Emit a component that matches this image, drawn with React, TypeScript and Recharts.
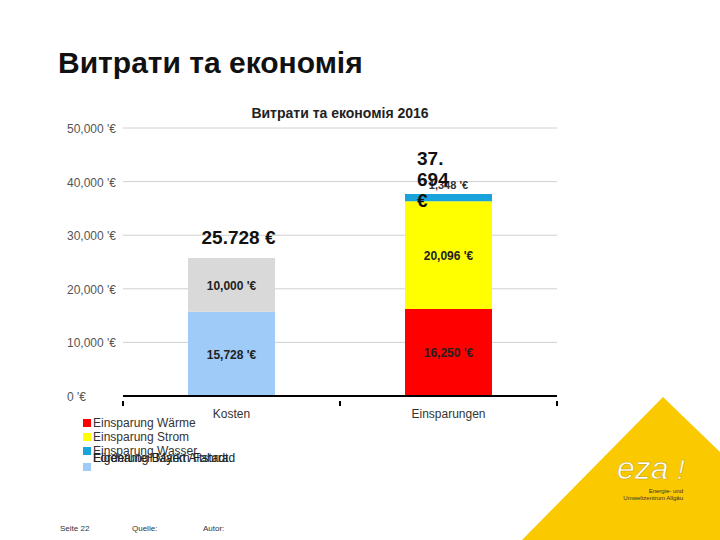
import React from 'react';
import { BarChart, Bar, XAxis, YAxis, CartesianGrid, LabelList } from 'recharts';

const categories = ['Kosten', 'Einsparungen'];
const blueValues = [15728, null];
const grayValues = [10000, null];
const redValues = [null, 16250];
const yellowValues = [null, 20096];
const cyanValues = [null, 1348];
const kostenTotals = ['25.728 €', null];
const einsparTotals = [null, '37.\n694\n€'];
const yTicks = [0, 10000, 20000, 30000, 40000, 50000];

const legendItems = [
  { name: 'Einsparung Wärme', color: '#ff0000' },
  { name: 'Einsparung Strom', color: '#ffff00' },
  { name: 'Einsparung Wasser', color: '#1aa3db' },
];
const overlapNames = ['Eigenanteil Markt Altstadt', 'Förderung Bayern Fahrrad'];

const data = categories.map((name, i) => ({
  name,
  blue: blueValues[i],
  gray: grayValues[i],
  red: redValues[i],
  yellow: yellowValues[i],
  cyan: cyanValues[i],
  kTotal: kostenTotals[i],
  eTotal: einsparTotals[i],
}));

const font = 'Arial, "Liberation Sans", sans-serif';
const euro = (v: number) => v.toLocaleString('en-US') + " '€";

const YTick = (props: any) => {
  const { y, payload } = props;
  return (
    <text x={67} y={y} dy={5} textAnchor="start" fontSize={12} fill="#555" fontFamily={font}>
      {euro(payload.value)}
    </text>
  );
};

const XTick = (props: any) => {
  const { x, y, payload } = props;
  const off = payload.offset || 0;
  return (
    <g>
      <line x1={x - off} x2={x - off} y1={y - 1} y2={y + 4} stroke="#000" strokeWidth={2} />
      <line x1={x + off} x2={x + off} y1={y - 1} y2={y + 4} stroke="#000" strokeWidth={2} />
      <text x={x} y={y} dy={16} textAnchor="middle" fontSize={12} fill="#333" fontFamily={font}>
        {payload.value}
      </text>
    </g>
  );
};

const innerLabel = (props: any) => {
  const { x, y, width, height, value } = props;
  if (value == null) return null;
  return (
    <text x={x + width / 2} y={y + height / 2} dy={5} textAnchor="middle" fontSize={12} fontWeight="bold" fill="#222" fontFamily={font}>
      {euro(value)}
    </text>
  );
};

const kostenTotal = (props: any) => {
  const { x, y, width, value } = props;
  if (value == null) return null;
  return (
    <text x={x + width / 2 + 7} y={y - 14} textAnchor="middle" fontSize={19} fontWeight="bold" fill="#111" fontFamily={font}>
      {value}
    </text>
  );
};

const cyanLabel = (props: any) => {
  const { x, y, width, value } = props;
  if (value == null) return null;
  return (
    <text x={x + width / 2} y={y - 5} textAnchor="middle" fontSize={11} fontWeight="bold" fill="#333" fontFamily={font}>
      {euro(value)}
    </text>
  );
};

const wrappedTotal = (props: any) => {
  const { x, y, value } = props;
  if (value == null) return null;
  const lines = String(value).split('\n');
  return (
    <g>
      {lines.map((l, i) => (
        <text key={i} x={x + 12} y={y - 29 + i * 21} fontSize={19} fontWeight="bold" fill="#111" fontFamily={font}>
          {l}
        </text>
      ))}
    </g>
  );
};

export default function App() {
  return (
    <div style={{ position: 'absolute', left: 0, top: 0, width: 720, height: 540, background: '#fff', overflow: 'hidden', fontFamily: font }}>
      <svg width={720} height={540} style={{ position: 'absolute', left: 0, top: 0 }}>
        <polygon points="522,540 663,397 720,452 720,540" fill="#fac900" />
        <text x={617} y={479} fontSize={32} fontStyle="italic" fill="#fff" fontFamily={font} stroke="#bfa000" strokeWidth={0.5}>
          eza
        </text>
        <text x={677} y={479} fontSize={28} fontStyle="italic" fill="#fff" fontFamily={font} stroke="#bfa000" strokeWidth={0.5}>
          !
        </text>
        <text x={683} y={493} fontSize={6} textAnchor="end" fill="#333" fontFamily={font}>Energie- und</text>
        <text x={683} y={500} fontSize={6} textAnchor="end" fill="#333" fontFamily={font}>Umweltzentrum Allgäu</text>
        <text x={60} y={531} fontSize={8} fill="#333" fontFamily={font}>Seite 22</text>
        <text x={132} y={531} fontSize={8} fill="#333" fontFamily={font}>Quelle:</text>
        <text x={203} y={531} fontSize={8} fill="#333" fontFamily={font}>Autor:</text>
      </svg>
      <div style={{ position: 'absolute', left: 58, top: 46, fontSize: 30, fontWeight: 'bold', color: '#111' }}>
        Витрати та економія
      </div>
      <div style={{ position: 'absolute', left: 123, width: 434, top: 105, textAlign: 'center', fontSize: 14, fontWeight: 'bold', color: '#222' }}>
        Витрати та економія 2016
      </div>
      <div style={{ position: 'absolute', left: 0, top: 0 }}>
        <BarChart width={720} height={540} data={data} margin={{ top: 128, right: 163, bottom: 114, left: 67 }}>
          <CartesianGrid vertical={false} stroke="#d0d0d0" />
          <XAxis
            dataKey="name"
            axisLine={{ stroke: '#000', strokeWidth: 2 }}
            tickLine={false}
            tick={<XTick />}
            tickMargin={0}
            height={30}
          />
          <YAxis
            domain={[0, 50000]}
            ticks={yTicks}
            axisLine={false}
            tickLine={false}
            tick={<YTick />}
            width={56}
          />
          <Bar dataKey="blue" stackId="a" fill="#9ecbf8" barSize={87} isAnimationActive={false}>
            <LabelList dataKey="blue" content={innerLabel} />
          </Bar>
          <Bar dataKey="gray" stackId="a" fill="#d9d9d9" barSize={87} isAnimationActive={false}>
            <LabelList dataKey="gray" content={innerLabel} />
            <LabelList dataKey="kTotal" content={kostenTotal} />
          </Bar>
          <Bar dataKey="red" stackId="a" fill="#ff0000" barSize={87} isAnimationActive={false}>
            <LabelList dataKey="red" content={innerLabel} />
          </Bar>
          <Bar dataKey="yellow" stackId="a" fill="#ffff00" barSize={87} isAnimationActive={false}>
            <LabelList dataKey="yellow" content={innerLabel} />
          </Bar>
          <Bar dataKey="cyan" stackId="a" fill="#1aa3db" barSize={87} isAnimationActive={false}>
            <LabelList dataKey="cyan" content={cyanLabel} />
            <LabelList dataKey="eTotal" content={wrappedTotal} />
          </Bar>
        </BarChart>
      </div>
      <div style={{ position: 'absolute', left: 83, top: 416, fontSize: 12, color: '#333', lineHeight: '14px' }}>
        {legendItems.map((it) => (
          <div key={it.name} style={{ display: 'flex', alignItems: 'center', height: 14 }}>
            <span style={{ width: 8, height: 8, background: it.color, marginRight: 2 }} />
            {it.name}
          </div>
        ))}
        <div style={{ position: 'relative', height: 14 }}>
          <span style={{ position: 'absolute', left: 0, top: 5, width: 8, height: 8, background: '#9ecbf8' }} />
          {overlapNames.map((n) => (
            <span key={n} style={{ position: 'absolute', left: 10, top: -7, whiteSpace: 'nowrap', color: '#222' }}>
              {n}
            </span>
          ))}
        </div>
      </div>
    </div>
  );
}
